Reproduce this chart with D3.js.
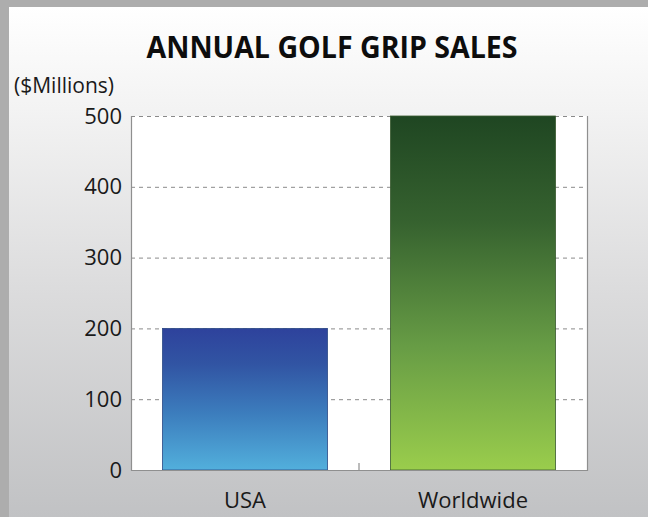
<!DOCTYPE html>
<html>
<head>
<meta charset="utf-8">
<script src="https://cdn.jsdelivr.net/npm/d3@7"></script>
<style>
  html, body { margin: 0; padding: 0; background: #adadad; }
  svg { display: block; }
</style>
</head>
<body>
<svg id="chart" width="648" height="517"></svg>
<script>
// Annual golf grip sales, in $ millions
const categories = ["USA", "Worldwide"];
const sales = [200, 500];
const yTicks = [0, 100, 200, 300, 400, 500];
const titleText = "ANNUAL GOLF GRIP SALES";
const unitText = "($Millions)";

const W = 648, H = 517;
const plot = { left: 131, top: 116, right: 587, bottom: 470 };

const svg = d3.select("#chart");
const defs = svg.append("defs");

// panel background: white fading to light grey
const bg = defs.append("linearGradient").attr("id", "panelGrad")
  .attr("x1", 0).attr("y1", 0).attr("x2", 0).attr("y2", 1);
[[0, "#ffffff"], [0.2, "#f3f3f3"], [0.55, "#dcdcdd"], [1, "#c1c2c4"]]
  .forEach(([o, c]) => bg.append("stop").attr("offset", o).attr("stop-color", c));

// bar fills
const fills = {
  USA: [[0, "#2e429c"], [0.25, "#3154a3"], [0.6, "#3c7dbd"], [1, "#52afdc"]],
  Worldwide: [[0, "#1f4622"], [0.3, "#36622f"], [0.65, "#679c45"], [1, "#9acd4c"]]
};
Object.entries(fills).forEach(([k, stops], i) => {
  const g = defs.append("linearGradient").attr("id", "barGrad" + i)
    .attr("x1", 0).attr("y1", 0).attr("x2", 0).attr("y2", 1);
  stops.forEach(([o, c]) => g.append("stop").attr("offset", o).attr("stop-color", c));
});

svg.append("rect").attr("width", W).attr("height", H).attr("fill", "#adadad");
svg.append("rect").attr("x", 9).attr("y", 7).attr("width", W - 9).attr("height", H - 7)
  .attr("fill", "url(#panelGrad)");

const x = d3.scaleBand().domain(categories)
  .range([plot.left, plot.right]).paddingInner(0.276).paddingOuter(0.138);
const y = d3.scaleLinear().domain([0, 500]).range([plot.bottom, plot.top]);

// white plotting area
svg.append("rect")
  .attr("x", plot.left).attr("y", plot.top)
  .attr("width", plot.right - plot.left).attr("height", plot.bottom - plot.top)
  .attr("fill", "#ffffff");

// dashed gridlines
svg.append("g").selectAll("line")
  .data(yTicks.filter(d => d > 0))
  .join("line")
  .attr("x1", plot.left).attr("x2", plot.right)
  .attr("y1", d => y(d) + 0.5).attr("y2", d => y(d) + 0.5)
  .attr("stroke", "#8a8a8a").attr("stroke-width", 1)
  .attr("stroke-dasharray", "4,4");

// bars
svg.append("g").selectAll("rect")
  .data(categories)
  .join("rect")
  .attr("x", d => x(d))
  .attr("y", (d, i) => y(sales[i]))
  .attr("width", x.bandwidth())
  .attr("height", (d, i) => y(0) - y(sales[i]))
  .attr("fill", (d, i) => `url(#barGrad${i})`)
  .attr("stroke", (d, i) => i === 0 ? "#2c4a86" : "#3a5a30")
  .attr("stroke-width", 0.8);

// frame: left, bottom, right
const frame = svg.append("g").attr("stroke", "#8f8f8f").attr("stroke-width", 1.2).attr("fill", "none");
frame.append("path").attr("d",
  `M${plot.left + 0.5},${plot.top} V${plot.bottom + 0.5} H${plot.right + 0.5} V${plot.top}`);
// separator tick between the two categories
const mid = (x(categories[0]) + x.bandwidth() + x(categories[1])) / 2;
frame.append("line").attr("x1", mid).attr("x2", mid)
  .attr("y1", plot.bottom - 7).attr("y2", plot.bottom);

// y-axis labels
const yAxis = d3.axisLeft(y).tickValues(yTicks).tickSize(0).tickPadding(9);
const gy = svg.append("g").attr("transform", `translate(${plot.left},0)`).call(yAxis);
gy.select(".domain").remove();
gy.selectAll("text")
  .attr("font-family", "'Open Sans', sans-serif").attr("font-size", 22)
  .attr("fill", "#1a1a1a");

// x-axis labels
const xAxis = d3.axisBottom(x).tickSize(0).tickPadding(22);
const gx = svg.append("g").attr("transform", `translate(0,${plot.bottom})`).call(xAxis);
gx.select(".domain").remove();
gx.selectAll("text")
  .attr("font-family", "'Open Sans', sans-serif").attr("font-size", 22)
  .attr("fill", "#1a1a1a");

// title and unit label
svg.append("text")
  .attr("x", 332).attr("y", 58)
  .attr("text-anchor", "middle")
  .attr("font-family", "'Open Sans', sans-serif").attr("font-weight", 700)
  .attr("font-size", 30)
  .attr("textLength", 371).attr("lengthAdjust", "spacingAndGlyphs")
  .attr("fill", "#0d0d0d")
  .text(titleText);

svg.append("text")
  .attr("x", 14).attr("y", 93)
  .attr("font-family", "'Open Sans', sans-serif").attr("font-size", 21)
  .attr("fill", "#1a1a1a")
  .text(unitText);
</script>
</body>
</html>
